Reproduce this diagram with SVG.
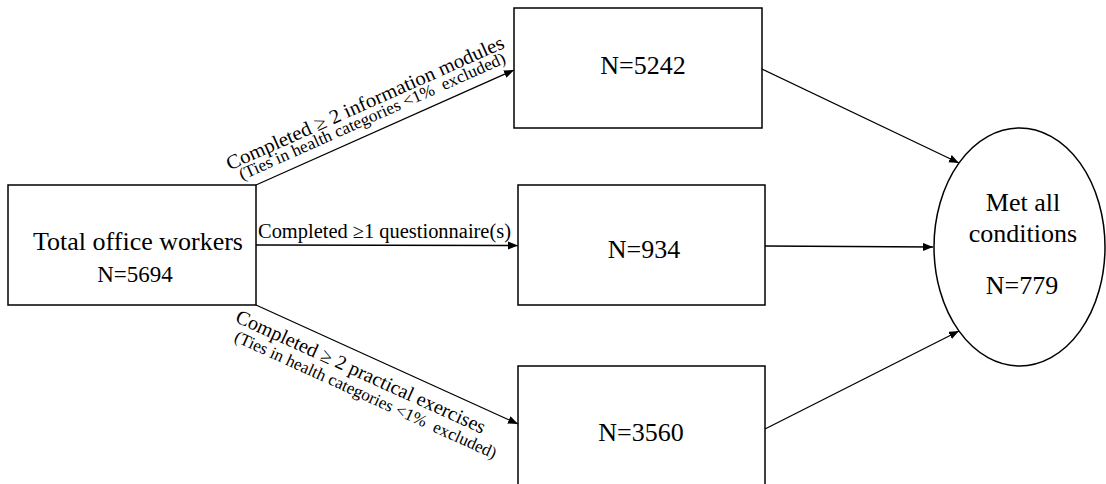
<svg xmlns="http://www.w3.org/2000/svg" width="1106" height="484" viewBox="0 0 1106 484">
<style>
.box{fill:#fff;stroke:#000;stroke-width:1.5}
.conn line{stroke:#000;stroke-width:1.3;marker-end:url(#arr)}
text{font-family:"Liberation Serif","Times New Roman",serif;fill:#000}
.big{font-size:26px;text-anchor:middle}
.lbl{font-size:20px}
.sub{font-size:17px}
</style>
<defs>
<marker id="arr" markerUnits="userSpaceOnUse" markerWidth="11" markerHeight="9" refX="10" refY="4" orient="auto">
<path d="M0,0 L10,4 L0,8 z" fill="#000"/>
</marker>
</defs>
<rect width="1106" height="484" fill="#fff"/>
<g id="n-total">
<rect class="box" x="8" y="185" width="248" height="120"/>
<text class="big" x="138" y="250">Total office workers</text>
<text class="big" x="135" y="282" style="font-size:23px">N=5694</text>
</g>
<g id="n-5242">
<rect class="box" x="514" y="8" width="248" height="120"/>
<text class="big" x="643" y="74">N=5242</text>
</g>
<g id="n-934">
<rect class="box" x="518" y="185" width="247" height="120"/>
<text class="big" x="644" y="258">N=934</text>
</g>
<g id="n-3560">
<rect class="box" x="518" y="366" width="247" height="130"/>
<text class="big" x="641" y="441">N=3560</text>
</g>
<g id="n-met">
<ellipse class="box" cx="1019.5" cy="247" rx="85.5" ry="119"/>
<text class="big" x="1023" y="211">Met all</text>
<text class="big" x="1023" y="242">conditions</text>
<text class="big" x="1022" y="294">N=779</text>
</g>
<g id="connectors" class="conn">
<line x1="256" y1="185" x2="514" y2="70"/>
<line x1="256" y1="245" x2="518" y2="245.5"/>
<line x1="256" y1="305" x2="518" y2="424"/>
<line x1="762" y1="69" x2="959" y2="163"/>
<line x1="765" y1="246" x2="933" y2="247"/>
<line x1="765" y1="429" x2="959" y2="331"/>
</g>
<g id="labels">
<text class="lbl" x="258" y="238" textLength="253" lengthAdjust="spacingAndGlyphs">Completed ≥1 questionnaire(s)</text>
<g transform="translate(256,185) rotate(-24.02)">
<text class="lbl" x="-18" y="-24" textLength="302" lengthAdjust="spacingAndGlyphs">Completed ≥ 2 information modules</text>
<text class="sub" x="-11" y="-10" textLength="290" lengthAdjust="spacingAndGlyphs" xml:space="preserve">(Ties in health categories &lt;1%  excluded)</text>
</g>
<g transform="translate(256,305) rotate(24.42)">
<text class="lbl" x="-13" y="24" textLength="272" lengthAdjust="spacingAndGlyphs">Completed ≥ 2 practical exercises</text>
<text class="sub" x="-6" y="42" textLength="286" lengthAdjust="spacingAndGlyphs" xml:space="preserve">(Ties in health categories &lt;1%  excluded)</text>
</g>
</g>
</svg>
